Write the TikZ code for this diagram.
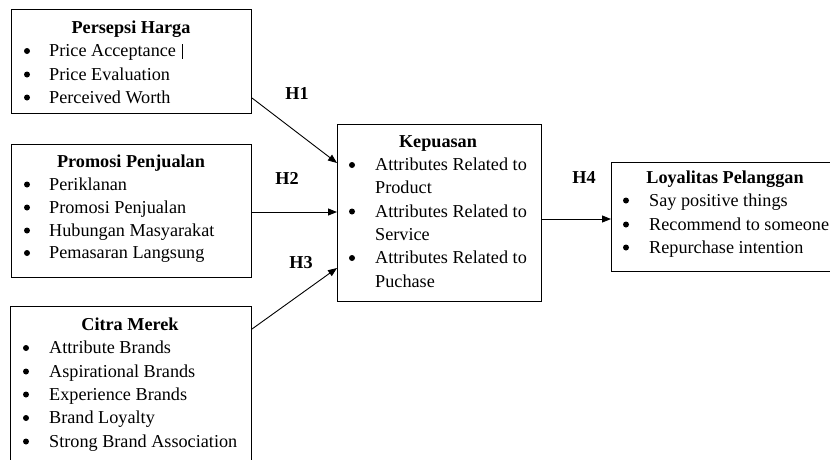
\documentclass[tikz,border=0pt]{standalone}
\usepackage{fontspec}
\setmainfont{Liberation Serif}
\usetikzlibrary{arrows.meta,calc}
\begin{document}
\begin{tikzpicture}[x=1pt,y=-1pt,
  box/.style={draw, line width=1pt, anchor=north west, inner sep=0pt},
  ttl/.style={anchor=base, font=\fontsize{18.2}{22}\selectfont\bfseries, inner sep=0pt},
  itm/.style={anchor=base west, font=\fontsize{18.2}{22}\selectfont, inner sep=0pt},
  bul/.style={circle, fill, inner sep=0pt, minimum size=6pt},
  arr/.style={line width=0.9pt, -{Triangle[length=9pt,width=7pt]}},
  hyp/.style={font=\fontsize{18.2}{22}\selectfont\bfseries, inner sep=0pt}]
\useasboundingbox (0,0) rectangle (830,459);
\clip (0,0) rectangle (830,459);

% boxes
\node[box, minimum width=240pt, minimum height=104pt] (b1) at (11,9) {};
\node[box, minimum width=240pt, minimum height=133pt] (b2) at (11,144) {};
\node[box, minimum width=241pt, minimum height=170pt] (b3) at (10,306) {};
\node[box, minimum width=204pt, minimum height=177pt] (k) at (337,124) {};
\node[box, minimum width=229pt, minimum height=109pt] (l) at (611,162) {};

% Persepsi Harga
\node[ttl] (t1) at (131,33) {Persepsi Harga};
\node[bul] (b1a) at (27,51) {}; \node[itm] (i1a) at (49,56.5) {Price Acceptance};
\node[bul] (b1b) at (27,74.5) {}; \node[itm] (i1b) at (49,80) {Price Evaluation};
\node[bul] (b1c) at (27,97.5) {}; \node[itm] (i1c) at (49,103) {Perceived Worth};
\draw[line width=0.8pt] (182,44) -- (182,59);

% Promosi Penjualan
\node[ttl] (t2) at (131,167) {Promosi Penjualan};
\node[bul] (b2a) at (27,184.5) {}; \node[itm] (i2a) at (49,190) {Periklanan};
\node[bul] (b2b) at (27,207.5) {}; \node[itm] (i2b) at (49,213) {Promosi Penjualan};
\node[bul] (b2c) at (27,230.5) {}; \node[itm] (i2c) at (49,236) {Hubungan Masyarakat};
\node[bul] (b2d) at (27,253) {}; \node[itm] (i2d) at (49,258.5) {Pemasaran Langsung};

% Citra Merek
\node[ttl] (t3) at (130,330) {Citra Merek};
\node[bul] (b3a) at (26,348) {}; \node[itm] (i3a) at (49,353.5) {Attribute Brands};
\node[bul] (b3b) at (26,371.5) {}; \node[itm] (i3b) at (49,377) {Aspirational Brands};
\node[bul] (b3c) at (26,394.5) {}; \node[itm] (i3c) at (49,400) {Experience Brands};
\node[bul] (b3d) at (26,418) {}; \node[itm] (i3d) at (49,423.5) {Brand Loyalty};
\node[bul] (b3e) at (26,441.5) {}; \node[itm] (i3e) at (49,447) {Strong Brand Association};

% Kepuasan
\node[ttl] (tk) at (438,147) {Kepuasan};
\node[bul] (bka) at (352,165) {}; \node[itm] (ika) at (375,170.5) {Attributes Related to};
\node[itm] (ikb) at (375,193.5) {Product};
\node[bul] (bkc) at (352,211.5) {}; \node[itm] (ikc) at (375,217) {Attributes Related to};
\node[itm] (ikd) at (375,240) {Service};
\node[bul] (bke) at (352,258) {}; \node[itm] (ike) at (375,263.5) {Attributes Related to};
\node[itm] (ikf) at (375,287) {Puchase};

% Loyalitas Pelanggan
\node[ttl] (tl) at (725,183) {Loyalitas Pelanggan};
\node[bul] (bla) at (626,200.5) {}; \node[itm] (ila) at (649,206) {Say positive things};
\node[bul] (blb) at (626,224.5) {}; \node[itm] (ilb) at (649,230) {Recommend to someone};
\node[bul] (blc) at (626,247.5) {}; \node[itm] (ilc) at (649,253) {Repurchase intention};

% arrows
\draw[arr] ($(b1.north east)+(0,89)$) -- ($(k.north west)+(0,39)$);
\draw[arr] ($(b2.north east)+(0,68)$) -- ($(k.north west)+(0,88)$);
\draw[arr] ($(b3.north east)+(0,23)$) -- ($(k.north west)+(0,144)$);
\draw[arr] ($(k.north east)+(0,95)$) -- ($(l.north west)+(0,57)$);

% labels
\node[hyp] (h1) at (297,93) {H1};
\node[hyp] (h2) at (287,178.5) {H2};
\node[hyp] (h3) at (301,262.5) {H3};
\node[hyp] (h4) at (584,177.5) {H4};
\end{tikzpicture}
\end{document}
